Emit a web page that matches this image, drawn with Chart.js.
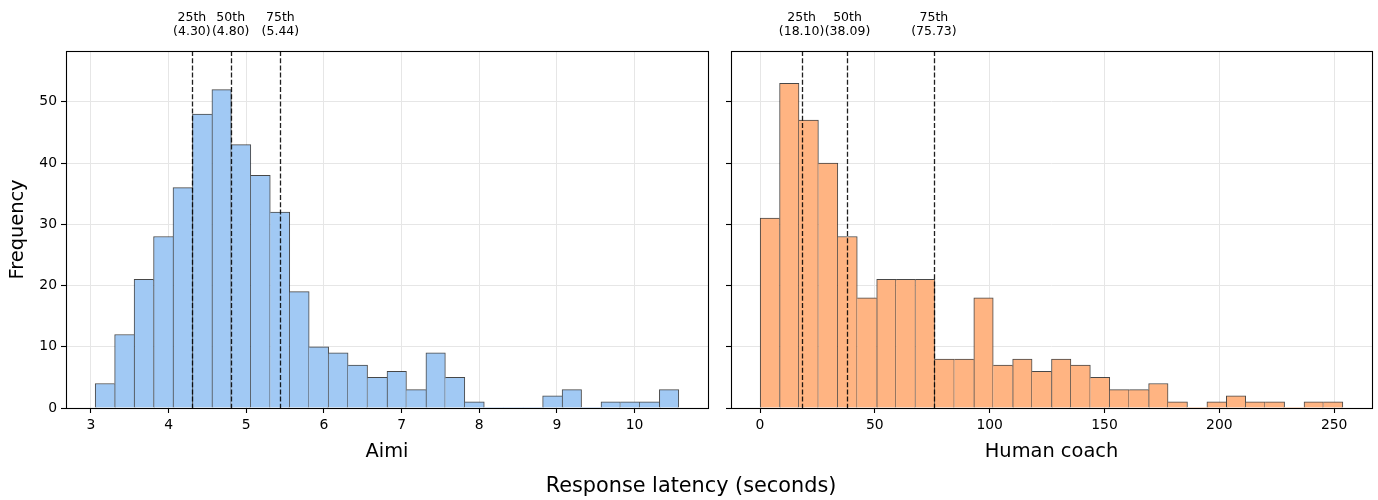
<!DOCTYPE html>
<html>
<head>
<meta charset="utf-8">
<script src="https://cdn.jsdelivr.net/npm/chart.js@4.4.1/dist/chart.umd.min.js"></script>
<style>
  html, body { margin:0; padding:0; background:#fff; width:1378px; height:500px; overflow:hidden; font-family:"DejaVu Sans", sans-serif; }
  #wrapL { position:absolute; left:0; top:0; width:712px; height:500px; }
  #wrapR { position:absolute; left:700px; top:0; width:678px; height:500px; }
  #supx { position:absolute; left:0; top:472px; width:1378px; text-align:center; font-size:20.8px; color:#000; font-family:"DejaVu Sans", sans-serif; line-height:26px; padding-left:2px; }
</style>
</head>
<body>
<div id="wrapL"><canvas id="cL" width="712" height="500"></canvas></div>
<div id="wrapR"><canvas id="cR" width="678" height="500"></canvas></div>
<div id="supx">Response latency (seconds)</div>
<script>
// ---- data ----
const aimiCounts = [4,12,21,28,36,48,52,43,38,32,19,10,9,7,5,6,3,9,5,1,0,0,0,2,3,0,1,1,1,3];
const aimiRange = [3.055, 10.57];          // histogram min / max edge
const coachCounts = [31,53,47,40,28,18,21,21,21,8,8,18,7,8,6,8,7,5,3,3,4,1,0,1,2,1,1,0,1,1];
const coachRange = [0.05, 253.8];
const percentileNames = ['25th','50th','75th'];
const aimiPercentiles = [4.30, 4.80, 5.44];
const coachPercentiles = [18.10, 38.09, 75.73];
const aimiTicks = [3,4,5,6,7,8,9,10];
const coachTicks = [0,50,100,150,200,250];
const freqTicks = [0,10,20,30,40,50];
const panelLabels = ['Aimi','Human coach'];
const yLabel = 'Frequency';
const colors = ['#a1c9f4', '#ffb482'];

const FONT = '"DejaVu Sans", sans-serif';

function binPoints(counts, range) {
  const w = (range[1] - range[0]) / counts.length;
  return counts.map((c, i) => ({ x: range[0] + (i + 0.5) * w, y: c }));
}

function xLimits(range) {
  const m = (range[1] - range[0]) * 0.05;
  return [range[0] - m, range[1] + m];
}

const frame = {
  id: 'frame',
  afterDatasetsDraw(chart, args, opts) {
    const { ctx, chartArea: a, scales: { x } } = chart;
    ctx.save();
    ctx.strokeStyle = 'rgba(0,0,0,0.88)';
    ctx.lineWidth = 1.3;
    ctx.setLineDash([5, 2.2]);
    opts.values.forEach(v => {
      const px = Math.round(x.getPixelForValue(v)) + 0.5;
      ctx.beginPath();
      ctx.moveTo(px, a.top);
      ctx.lineTo(px, a.bottom);
      ctx.stroke();
    });
    ctx.restore();
  },
  afterDraw(chart, args, opts) {
    const { ctx, chartArea: a, scales: { x } } = chart;
    ctx.save();
    ctx.strokeStyle = '#000';
    ctx.lineWidth = 1.1;
    ctx.strokeRect(a.left + 0.5, a.top + 0.5, a.right - a.left, a.bottom - a.top);
    ctx.fillStyle = '#000';
    ctx.font = '12.5px ' + FONT;
    ctx.textAlign = 'center';
    ctx.textBaseline = 'alphabetic';
    opts.values.forEach((v, i) => {
      const px = x.getPixelForValue(v);
      ctx.fillText(percentileNames[i], px, 21);
      ctx.fillText('(' + v.toFixed(2) + ')', px, 35);
    });
    ctx.restore();
  }
};

function makeChart(id, counts, range, color, xticks, pct, label, isLeft) {
  const lim = xLimits(range);
  const pts = binPoints(counts, range);
  return new Chart(document.getElementById(id), {
    type: 'bar',
    data: {
      datasets: [{
        data: pts,
        backgroundColor: color,
        borderColor: 'rgba(0,0,0,0.72)',
        borderWidth: (c) => {
          const i = c.dataIndex;
          const cur = counts[i];
          if (!cur) return 0;
          const prev = counts[i - 1];
          const next = counts[i + 1];
          return {
            left: (prev === undefined || prev < cur) ? 1 : 0,
            right: (next === undefined || next <= cur) ? 1 : 0,
            top: 1, bottom: 0
          };
        },
        borderSkipped: false,
        barPercentage: 1,
        categoryPercentage: 1,
        grouped: false
      }]
    },
    plugins: [frame],
    options: {
      responsive: false,
      animation: false,
      events: [],
      layout: { padding: { left: 0, top: 51, right: isLeft ? 4 : 6, bottom: 0 } },
      plugins: {
        legend: { display: false },
        tooltip: { enabled: false },
        frame: { values: pct }
      },
      scales: {
        x: {
          type: 'linear',
          offset: false,
          min: lim[0], max: lim[1],
          afterBuildTicks: s => { s.ticks = xticks.map(v => ({ value: v })); },
          afterFit: s => { s.height = 92; },
          border: { display: false },
          grid: { offset: false, color: '#e6e6e6', lineWidth: 1, tickColor: '#000', tickLength: 5, tickWidth: 1.1 },
          ticks: { font: { family: FONT, size: 13.9 }, color: '#000', padding: 4, maxRotation: 0, autoSkip: false, includeBounds: false },
          title: { display: true, text: label, color: '#000', font: { family: FONT, size: 19.4 }, padding: { top: 0, bottom: 36 } }
        },
        y: {
          min: 0, max: 58.3,
          afterBuildTicks: s => { s.ticks = freqTicks.map(v => ({ value: v })); },
          afterFit: s => { s.width = isLeft ? 66 : 31; },
          border: { display: false },
          grid: { color: '#e6e6e6', lineWidth: 1, tickColor: '#000', tickLength: 5, tickWidth: 1.1 },
          ticks: { font: { family: FONT, size: 13.9 }, color: '#000', padding: 4, callback: v => isLeft ? String(v) : '' },
          title: { display: isLeft, text: yLabel, color: '#000', font: { family: FONT, size: 19.4 }, padding: { top: 6, bottom: 0 } }
        }
      }
    }
  });
}

makeChart('cL', aimiCounts, aimiRange, colors[0], aimiTicks, aimiPercentiles, panelLabels[0], true);
makeChart('cR', coachCounts, coachRange, colors[1], coachTicks, coachPercentiles, panelLabels[1], false);
</script>
</body>
</html>
